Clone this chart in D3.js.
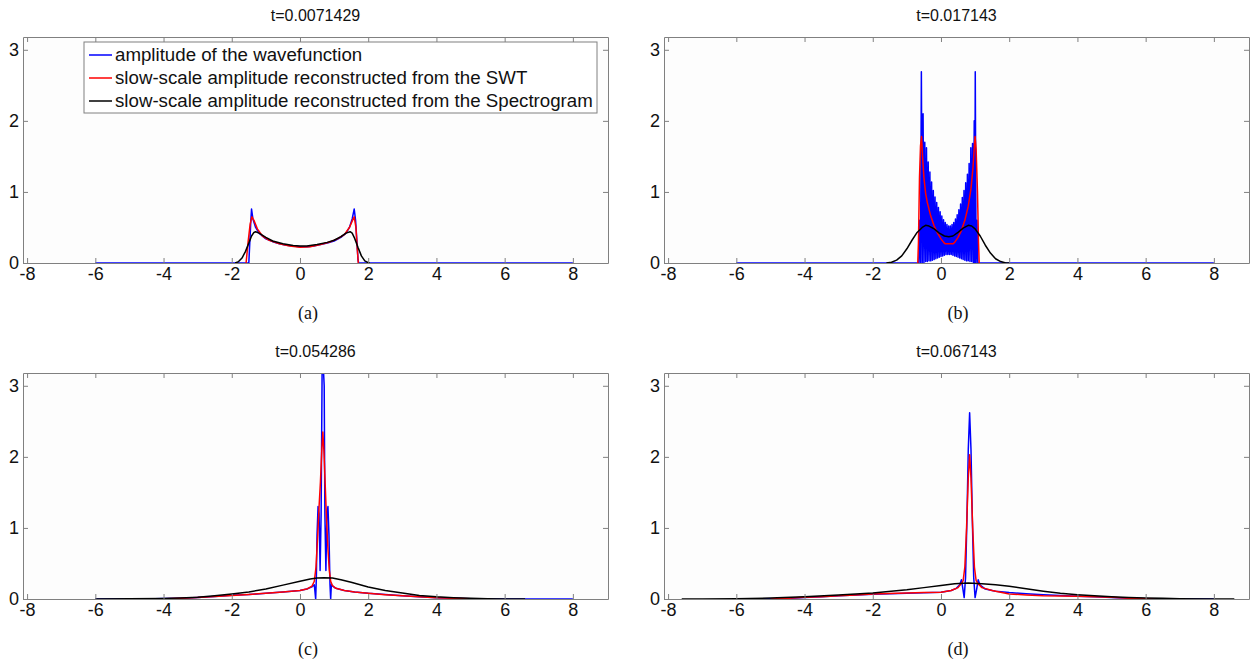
<!DOCTYPE html>
<html>
<head>
<meta charset="utf-8">
<script src="https://cdn.jsdelivr.net/npm/d3@7"></script>
<style>
  body { margin: 0; background: #fff; }
  svg { display: block; }
</style>
</head>
<body>
<script>
const width = 1256;
const height = 663;

// ticks, titles, legend
const xTicks = [-8, -6, -4, -2, 0, 2, 4, 6, 8];
const yTicks = [0, 1, 2, 3];
const titles = ["t=0.0071429", "t=0.017143", "t=0.054286", "t=0.067143"];
const captions = ["(a)", "(b)", "(c)", "(d)"];
const legendLabels = [
    "amplitude of the wavefunction",
    "slow-scale amplitude reconstructed from the SWT",
    "slow-scale amplitude reconstructed from the Spectrogram"
];
const seriesColors = ["#0000ff", "#ff0000", "#000000"];

// panel (a)
const blueA = [[-6,0],[-1.5,0],[-1.47,0.3],[-1.44,0.6],[-1.42,0.76],[-1.38,0.62],[-1.3,0.5],[-1.2,0.42],[-1.0,0.34],[-0.8,0.3],
    [-0.6,0.27],[-0.4,0.25],[-0.2,0.24],[0,0.23],[0.2,0.23],[0.4,0.24],[0.6,0.26],[0.8,0.28],[1.0,0.31],[1.2,0.36],
    [1.35,0.42],[1.45,0.5],[1.53,0.62],[1.59,0.76],[1.63,0.6],[1.67,0.3],[1.7,0.05],[1.72,0],[8,0]];
const redA = [[-1.58,0],[-1.52,0.3],[-1.46,0.55],[-1.41,0.65],[-1.35,0.6],[-1.25,0.48],[-1.1,0.38],[-0.9,0.32],[-0.6,0.27],
    [-0.3,0.24],[0,0.22],[0.3,0.23],[0.6,0.26],[0.9,0.3],[1.1,0.34],[1.3,0.4],[1.45,0.5],[1.54,0.6],[1.59,0.65],
    [1.64,0.5],[1.68,0.2],[1.71,0]];
const blackA = [[-1.9,0],[-1.8,0.02],[-1.7,0.07],[-1.6,0.16],[-1.5,0.28],[-1.42,0.38],[-1.35,0.43],[-1.3,0.44],[-1.2,0.42],
    [-1.0,0.36],[-0.8,0.31],[-0.5,0.27],[-0.2,0.245],[0,0.24],[0.2,0.24],[0.5,0.26],[0.8,0.29],[1.0,0.32],[1.2,0.37],
    [1.35,0.42],[1.47,0.44],[1.53,0.42],[1.6,0.35],[1.7,0.22],[1.8,0.1],[1.9,0.03],[2.0,0.005],[2.05,0]];

// panel (b)
const blueB = [[-6,0],[-0.65,0],[-0.625,0.6],[-0.6,0],[-0.575,2.69],[-0.55,0],[-0.525,2.1],[-0.5,0],[-0.475,1.7],
    [-0.45,0.02],[-0.425,1.62],[-0.4,0.02],[-0.375,1.42],[-0.35,0.03],[-0.325,1.28],[-0.3,0.03],[-0.275,1.14],
    [-0.25,0.04],[-0.225,1.02],[-0.2,0.05],[-0.175,0.93],[-0.15,0.06],[-0.125,0.85],[-0.1,0.07],[-0.075,0.78],
    [-0.05,0.08],[-0.025,0.72],[0,0.09],[0.025,0.66],[0.05,0.1],[0.075,0.61],[0.1,0.11],[0.125,0.57],[0.15,0.12],
    [0.175,0.54],[0.2,0.12],[0.225,0.52],[0.25,0.12],[0.275,0.52],[0.3,0.12],[0.325,0.54],[0.35,0.11],[0.375,0.57],
    [0.4,0.1],[0.425,0.62],[0.45,0.09],[0.475,0.68],[0.5,0.08],[0.525,0.75],[0.55,0.07],[0.575,0.83],[0.6,0.06],
    [0.625,0.92],[0.65,0.05],[0.675,1.02],[0.7,0.04],[0.725,1.13],[0.75,0.03],[0.775,1.25],[0.8,0.03],[0.825,1.4],
    [0.85,0.02],[0.875,1.62],[0.9,0.02],[0.925,1.68],[0.95,0],[0.975,2.0],[0.99,0],[1.005,2.69],[1.03,0],[1.055,0.6],
    [1.08,0],[8,0]];
const redB = [[-0.68,0],[-0.66,0.3],[-0.63,1.2],[-0.6,1.65],[-0.57,1.78],[-0.54,1.5],[-0.5,1.2],[-0.45,0.98],[-0.4,0.85],
    [-0.3,0.66],[-0.2,0.52],[-0.1,0.42],[0,0.34],[0.08,0.29],[0.12,0.27],[0.35,0.27],[0.4,0.29],[0.5,0.36],[0.6,0.46],
    [0.7,0.6],[0.8,0.8],[0.88,1.05],[0.94,1.35],[0.98,1.65],[1.0,1.78],[1.03,1.6],[1.07,1.0],[1.1,0.3],[1.12,0]];
const blackB = [[-1.6,0],[-1.45,0.01],[-1.3,0.04],[-1.15,0.1],[-1.0,0.2],[-0.85,0.32],[-0.7,0.43],[-0.55,0.5],[-0.45,0.53],
    [-0.35,0.52],[-0.2,0.48],[-0.05,0.42],[0.1,0.38],[0.23,0.37],[0.35,0.38],[0.5,0.43],[0.65,0.49],[0.8,0.53],
    [0.9,0.52],[1.0,0.48],[1.15,0.38],[1.3,0.25],[1.45,0.14],[1.6,0.06],[1.75,0.02],[1.9,0],[2.0,0]];

// panel (c)
const blueC = [[-6,0],[-4.5,0],[-4,0.006],[-3.5,0.012],[-3,0.022],[-2.5,0.035],[-2,0.052],[-1.5,0.063],[-1,0.08],
    [-0.5,0.1],[0,0.12],[0.2,0.14],[0.35,0.17],[0.42,0.2],[0.46,0],[0.48,0.3],[0.5,0.9],[0.53,1.3],[0.56,1.2],
    [0.59,0.4],[0.62,1.2],[0.65,3.3],[0.68,3.3],[0.71,3.0],[0.73,1.2],[0.76,0.4],[0.79,1.2],[0.82,1.3],[0.85,0.9],
    [0.88,0.2],[0.9,0],[0.92,0.2],[0.96,0.18],[1.05,0.15],[1.3,0.12],[1.6,0.1],[2,0.08],[2.5,0.062],[3,0.045],
    [3.5,0.03],[4,0.018],[4.5,0.01],[5,0.004],[5.5,0],[8,0]];
const redC = [[-4.2,0],[-3.5,0.01],[-3,0.02],[-2.5,0.035],[-2,0.05],[-1.5,0.065],[-1,0.08],[-0.5,0.1],[0,0.12],
    [0.2,0.14],[0.35,0.18],[0.42,0.25],[0.47,0.45],[0.52,0.9],[0.56,1.3],[0.6,1.65],[0.64,2.1],[0.67,2.35],[0.7,2.1],
    [0.74,1.6],[0.78,1.1],[0.82,0.7],[0.86,0.4],[0.9,0.25],[0.95,0.19],[1.05,0.15],[1.3,0.12],[1.6,0.1],[2,0.08],
    [2.5,0.06],[3,0.045],[3.5,0.03],[4,0.018],[4.5,0.01],[5,0.004],[5.4,0]];
const blackC = [[-6,0],[-5,0.002],[-4,0.008],[-3.5,0.015],[-3,0.025],[-2.5,0.045],[-2,0.07],[-1.5,0.1],[-1,0.14],
    [-0.5,0.195],[0,0.25],[0.3,0.28],[0.5,0.295],[0.7,0.3],[0.95,0.295],[1.2,0.27],[1.5,0.235],[2,0.17],[2.5,0.12],
    [3,0.085],[3.5,0.05],[4,0.03],[4.5,0.018],[5,0.01],[5.5,0.004],[6,0.001],[6.6,0]];

// panel (d)
const blueD = [[-6,0],[-5,0.003],[-4.5,0.008],[-4,0.02],[-3.5,0.03],[-3,0.045],[-2.5,0.055],[-2,0.068],[-1.5,0.075],
    [-1,0.08],[-0.5,0.088],[0,0.095],[0.3,0.12],[0.45,0.15],[0.55,0.2],[0.6,0.27],[0.64,0.15],[0.68,0.02],[0.72,0.3],
    [0.76,1.1],[0.8,2.1],[0.84,2.62],[0.88,2.1],[0.92,1.1],[0.96,0.3],[1.0,0.02],[1.05,0.15],[1.09,0.27],[1.14,0.2],
    [1.3,0.14],[1.6,0.11],[2,0.09],[2.5,0.075],[3,0.06],[3.5,0.05],[4,0.04],[4.5,0.03],[5,0.022],[5.5,0.012],
    [6,0.005],[6.5,0],[8,0]];
const redD = [[-5,0],[-4.5,0.01],[-4,0.023],[-3.5,0.033],[-3,0.045],[-2.5,0.058],[-2,0.07],[-1.5,0.078],[-1,0.084],
    [-0.5,0.09],[0,0.094],[0.3,0.12],[0.5,0.16],[0.6,0.22],[0.65,0.26],[0.7,0.45],[0.75,1.0],[0.8,1.7],[0.84,2.03],
    [0.88,1.7],[0.93,1.0],[0.98,0.45],[1.03,0.26],[1.08,0.22],[1.2,0.16],[1.5,0.12],[2,0.07],[2.5,0.058],[3,0.047],
    [3.5,0.043],[4,0.04],[4.5,0.03],[5,0.023],[5.5,0.012],[6,0.005],[6.3,0]];
const blackD = [[-7.6,0],[-7,0.001],[-6,0.005],[-5,0.014],[-4,0.033],[-3,0.056],[-2,0.085],[-1,0.13],[-0.5,0.16],
    [0,0.19],[0.4,0.215],[0.8,0.225],[1.2,0.215],[1.6,0.2],[2,0.18],[2.5,0.145],[3,0.11],[3.5,0.08],[4,0.06],
    [4.5,0.045],[5,0.033],[5.5,0.022],[6,0.014],[6.5,0.009],[7,0.005],[8,0.001],[8.6,0]];

const panelSeries = [
    [blueA, redA, blackA],
    [blueB, redB, blackB],
    [blueC, redC, blackC],
    [blueD, redD, blackD]
];

// layout
const colLeft = [23, 664];
const rowTop = [37, 373];
const captionX = [308, 958];
const boxW = 585;
const boxH = 226;
const fontSans = "'Liberation Sans', Arial, sans-serif";

let svg = d3.select("body")
    .append("svg")
    .attr("width", width)
    .attr("height", height)
    .style("font-family", fontSans);

let x = d3.scaleLinear().domain([-8.12, 9.03]).range([0, boxW]);
let y = d3.scaleLinear().domain([0, 3.18]).range([boxH, 0]);

let line = d3.line()
    .x((d)=>x(d[0]))
    .y((d)=>y(d[1]));

// plain hyphen for negatives, like the original
let plainFormat = (d)=>String(d);

panelSeries.forEach((series, i)=>{
    let col = i % 2;
    let row = Math.floor(i / 2);
    let g = svg.append("g")
        .attr("transform", "translate(" + colLeft[col] + "," + rowTop[row] + ")");

    g.append("rect")
        .attr("width", boxW)
        .attr("height", boxH)
        .attr("fill", "#fdfdfd");

    g.append("clipPath")
        .attr("id", "clip" + i)
        .append("rect")
        .attr("width", boxW)
        .attr("height", boxH);

    let plot = g.append("g").attr("clip-path", "url(#clip" + i + ")");
    series.forEach((s, k)=>{
        plot.append("path")
            .datum(s)
            .attr("d", line)
            .attr("fill", "none")
            .attr("stroke", seriesColors[k])
            .attr("stroke-width", 1.5)
            .attr("stroke-linejoin", "round");
    });

    // box with inward ticks on all four sides
    g.append("g")
        .attr("transform", "translate(0," + boxH + ")")
        .call(d3.axisBottom(x).tickValues(xTicks).tickSize(-5).tickSizeOuter(0).tickPadding(4).tickFormat(plainFormat));
    g.append("g")
        .call(d3.axisTop(x).tickValues(xTicks).tickSize(-5).tickSizeOuter(0).tickFormat(""));
    g.append("g")
        .call(d3.axisLeft(y).tickValues(yTicks).tickSize(-5).tickSizeOuter(0).tickPadding(4).tickFormat(plainFormat));
    g.append("g")
        .attr("transform", "translate(" + boxW + ",0)")
        .call(d3.axisRight(y).tickValues(yTicks).tickSize(-5).tickSizeOuter(0).tickFormat(""));

    g.selectAll(".domain, .tick line").attr("stroke", "#808080");
    g.selectAll(".tick text")
        .attr("fill", "#111")
        .style("font-family", fontSans)
        .style("font-size", "18px");

    svg.append("text")
        .attr("x", colLeft[col] + boxW / 2)
        .attr("y", rowTop[row] - 16)
        .attr("text-anchor", "middle")
        .attr("font-size", 16)
        .attr("fill", "#111")
        .text(titles[i]);

    svg.append("text")
        .attr("x", captionX[col])
        .attr("y", rowTop[row] + boxH + 56)
        .attr("text-anchor", "middle")
        .attr("font-family", "'Liberation Serif', 'Times New Roman', serif")
        .attr("font-size", 18)
        .attr("fill", "#111")
        .text(captions[i]);
});

// legend in panel (a)
let legend = svg.append("g").attr("transform", "translate(84,42)");
legend.append("rect")
    .attr("width", 513)
    .attr("height", 71)
    .attr("fill", "#fff")
    .attr("stroke", "#808080");
legendLabels.forEach((label, k)=>{
    let ly = 13 + k * 23;
    legend.append("line")
        .attr("x1", 5).attr("x2", 28)
        .attr("y1", ly).attr("y2", ly)
        .attr("stroke", seriesColors[k])
        .attr("stroke-width", 1.5);
    legend.append("text")
        .attr("x", 31)
        .attr("y", ly + 6)
        .attr("font-size", 18.7)
        .attr("fill", "#111")
        .text(label);
});
</script>
</body>
</html>
